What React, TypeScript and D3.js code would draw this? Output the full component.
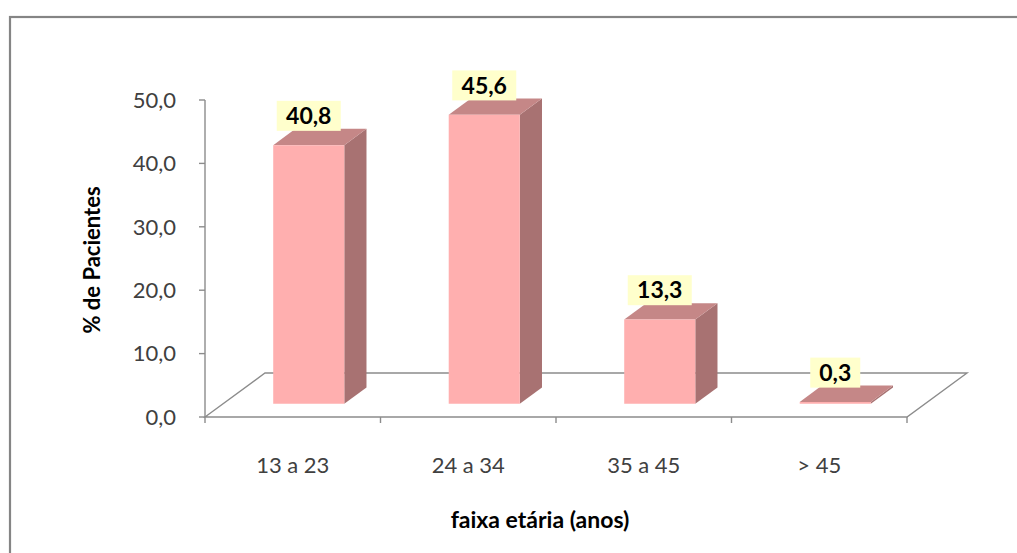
import React from "react";
import * as d3 from "d3";

// age groups and share of patients (%)
const categories = ["13 a 23", "24 a 34", "35 a 45", "> 45"];
const values = [40.8, 45.6, 13.3, 0.3];
const yTicks = [0, 10, 20, 30, 40, 50];

const W = 1017;
const H = 553;
const FONT = "Lato, 'Open Sans', sans-serif";

const fmt = (v: number) => v.toFixed(1).replace(".", ",");

export default function App() {
  // plot frame (front floor edge and axis)
  const x0 = 205;
  const x1 = 907;
  const yBase = 417;
  const yTop = 100;
  // floor depth vector
  const depth = { dx: 60, dy: -44 };
  const f0 = 0.3; // where bars start inside the floor
  const f1 = 0.37; // bar depth as fraction of floor depth

  const x = d3.scaleBand<string>().domain(categories).range([x0, x1]).padding(0);
  const y = d3.scaleLinear().domain([0, 50]).range([yBase, yTop]);

  const barW = x.bandwidth() * 0.405;
  const sx = depth.dx * f0 - 2;
  const sy = depth.dy * f0;
  const bx = depth.dx * f1;
  const by = depth.dy * f1;

  const grid = "#8c8c8c";

  const floor = [
    [x0, yBase],
    [x0 + depth.dx, yBase + depth.dy],
    [x1 + depth.dx, yBase + depth.dy],
    [x1, yBase],
  ];

  return (
    <svg
      width={W}
      height={H}
      style={{ position: "absolute", left: 0, top: 0, background: "#fff" }}
    >
      {/* chart frame */}
      <rect x={10} y={17} width={1100} height={700} fill="#fff" stroke="#858585" strokeWidth={2.2} />

      {/* floor */}
      <path d={d3.line()(floor as [number, number][])! + "Z"} fill="none" stroke={grid} strokeWidth={1.4} />

      {/* y axis */}
      <line x1={x0} x2={x0} y1={yTop} y2={yBase} stroke={grid} strokeWidth={1.4} />
      {yTicks.map((t) => (
        <g key={t}>
          <line x1={x0 - 6} x2={x0} y1={y(t)} y2={y(t)} stroke={grid} strokeWidth={1.4} />
          <text
            x={x0 - 29}
            y={y(t)}
            dy="0.35em"
            textAnchor="end"
            fontFamily={FONT}
            fontSize={22}
            fill="#404040"
          >
            {fmt(t)}
          </text>
        </g>
      ))}

      {/* x ticks */}
      {[...categories.map((c) => x(c)!), x1].map((px, i) => (
        <line key={i} x1={px} x2={px} y1={yBase} y2={yBase + 6} stroke={grid} strokeWidth={1.4} />
      ))}
      {categories.map((c) => (
        <text
          key={c}
          x={x(c)! + x.bandwidth() / 2}
          y={465}
          dy="0.35em"
          textAnchor="middle"
          fontFamily={FONT}
          fontSize={22}
          fill="#404040"
        >
          {c}
        </text>
      ))}

      {/* bars */}
      {categories.map((c, i) => {
        const v = values[i];
        const cx = x(c)! + x.bandwidth() / 2 + sx;
        const l = cx - barW / 2;
        const r = cx + barW / 2;
        const b = yBase + sy;
        const t = y(v) + sy;
        const front = `M${l},${b}L${l},${t}L${r},${t}L${r},${b}Z`;
        const side = `M${r},${b}L${r},${t}L${r + bx},${t + by}L${r + bx},${b + by}Z`;
        const top = `M${l},${t}L${l + bx},${t + by}L${r + bx},${t + by}L${r},${t}Z`;
        const label = fmt(v);
        const boxW = label.length * 14 + 8;
        const boxH = 30;
        const boxBottom = t + by + 2;
        return (
          <g key={c}>
            <path d={side} fill="#a87272" />
            <path d={top} fill="#c58787" />
            <path d={front} fill="#ffafaf" />
            <rect
              x={cx - boxW / 2}
              y={boxBottom - boxH}
              width={boxW}
              height={boxH}
              fill="#ffffcc"
            />
            <text
              x={cx}
              y={boxBottom - boxH / 2}
              dy="0.36em"
              textAnchor="middle"
              fontFamily={FONT}
              fontWeight="bold"
              fontSize={23}
              fill="#000"
            >
              {label}
            </text>
          </g>
        );
      })}

      {/* axis titles */}
      <text
        transform={`translate(100,260) rotate(-90)`}
        textAnchor="middle"
        fontFamily={FONT}
        fontWeight="bold"
        fontSize={22}
        fill="#000"
      >
        % de Pacientes
      </text>
      <text
        x={540}
        y={520}
        dy="0.35em"
        textAnchor="middle"
        fontFamily={FONT}
        fontWeight="bold"
        fontSize={23}
        fill="#000"
      >
        faixa etária (anos)
      </text>
    </svg>
  );
}
